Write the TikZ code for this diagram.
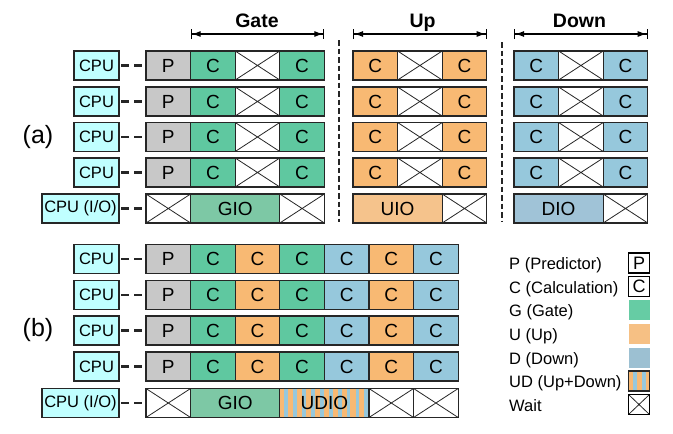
\documentclass[tikz,border=0pt]{standalone}
\usepackage{fontspec}
\setmainfont{Liberation Sans}
\usetikzlibrary{positioning,arrows.meta}

\definecolor{cpuc}{RGB}{192,255,255}
\definecolor{predc}{RGB}{200,200,200}
\definecolor{gatec}{RGB}{95,200,160}
\definecolor{upc}{RGB}{248,185,115}
\definecolor{downc}{RGB}{150,200,220}
\definecolor{gioc}{RGB}{125,200,165}
\definecolor{uioc}{RGB}{245,195,140}
\definecolor{dioc}{RGB}{160,195,215}
\definecolor{legg}{RGB}{102,204,164}
\definecolor{legu}{RGB}{246,192,132}
\definecolor{legd}{RGB}{156,192,210}

\tikzset{
  cell/.style={draw=black!85, line width=1.3pt, minimum width=44.6pt, minimum height=29pt,
    inner sep=0pt, outer sep=0pt, font=\fontsize{19}{19}\selectfont},
  wide/.style={minimum width=89.2pt},
  cross/.style={path picture={\draw[line width=0.8pt, black!85]
    (path picture bounding box.north west) -- (path picture bounding box.south east)
    (path picture bounding box.north east) -- (path picture bounding box.south west);}},
  waitbox/.style={cell, fill=white, cross},
  stripes/.style={fill=upc, path picture={\foreach \k in {0,...,10}
    \fill[downc] ([xshift=\k*8.9pt+4.5pt]path picture bounding box.south west) rectangle ++(3.8pt,40pt);}},
  cpu/.style={draw=black!85, fill=cpuc, line width=1.2pt, minimum width=45pt, minimum height=29pt,
    inner sep=1pt, outer sep=0pt, font=\fontsize{16.5}{16.5}\selectfont},
  link/.style={line width=2.5pt, black!85, dash pattern=on 7.5pt off 5.5pt,
    shorten <=2pt, shorten >=4pt},
  sep/.style={line width=1.4pt, black!85, dash pattern=on 5.5pt off 3pt},
  span/.style={line width=1.1pt, {Bar[width=10pt]Latex[length=9pt,width=6pt]}-{Latex[length=9pt,width=6pt]Bar[width=10pt]}},
  title/.style={font=\bfseries\fontsize{19.5}{19.5}\selectfont, anchor=base, inner sep=0pt},
  part/.style={font=\fontsize{25}{25}\selectfont, inner sep=0pt},
  legtext/.style={font=\fontsize{16.5}{16.5}\selectfont, anchor=base west, inner sep=0pt},
  legbox/.style={minimum width=21pt, minimum height=20pt, inner sep=0pt, outer sep=0pt,
    font=\fontsize{18}{18}\selectfont}
}

\begin{document}
\begin{tikzpicture}[x=1pt,y=-1pt]
\useasboundingbox (0,0) rectangle (673,434);

% (a) separate Gate / Up / Down phases
\foreach \i/\y in {1/65.5,2/101.5,3/137,4/172.5} {
  \node[cell, fill=predc] (a\i-p) at (168.3,\y) {P};
  \node[cell, fill=gatec, right=0pt of a\i-p] (a\i-g1) {C};
  \node[waitbox, right=0pt of a\i-g1] (a\i-gw) {};
  \node[cell, fill=gatec, right=0pt of a\i-gw] (a\i-g2) {C};
  \node[cell, fill=upc] (a\i-u1) at (375.3,\y) {C};
  \node[waitbox, right=0pt of a\i-u1] (a\i-uw) {};
  \node[cell, fill=upc, right=0pt of a\i-uw] (a\i-u2) {C};
  \node[cell, fill=downc] (a\i-d1) at (536.3,\y) {C};
  \node[waitbox, right=0pt of a\i-d1] (a\i-dw) {};
  \node[cell, fill=downc, right=0pt of a\i-dw] (a\i-d2) {C};
  \node[cpu, left=27pt of a\i-p] (a\i-cpu) {CPU};
  \draw[link] (a\i-cpu) -- (a\i-p);
}
\node[waitbox] (a5-w1) at (168.3,208.5) {};
\node[cell, wide, fill=gioc, right=0pt of a5-w1] (a5-gio) {GIO};
\node[waitbox, right=0pt of a5-gio] (a5-w2) {};
\node[cell, wide, fill=uioc] (a5-uio) at (397.6,208.5) {UIO};
\node[waitbox, right=0pt of a5-uio] (a5-w3) {};
\node[cell, wide, fill=dioc] (a5-dio) at (558.6,208.5) {DIO};
\node[waitbox, right=0pt of a5-dio] (a5-w4) {};
\node[cpu, minimum width=77pt, left=27pt of a5-w1] (a5-cpu) {CPU (I/O)};
\draw[link] (a5-cpu) -- (a5-w1);

\node[part] (lab-a) at (38,137) {(a)};

% phase spans
\coordinate (gate-l) at (a1-g1.north west |- 0,34);
\coordinate (gate-r) at (a1-g2.north east |- 0,34);
\coordinate (up-l) at (a1-u1.north west |- 0,34);
\coordinate (up-r) at (a1-u2.north east |- 0,34);
\coordinate (down-l) at (a1-d1.north west |- 0,34);
\coordinate (down-r) at (a1-d2.north east |- 0,34);
\draw[span] (gate-l) -- (gate-r);
\draw[span] (up-l) -- (up-r);
\draw[span] (down-l) -- (down-r);
\node[title] (gate-t) at (257,27) {Gate};
\node[title] (up-t) at (422.5,27) {Up};
\node[title] (down-t) at (579.5,27) {Down};

% separators
\coordinate (sep1-t) at (339,40);
\coordinate (sep1-b) at (339,222);
\coordinate (sep2-t) at (502,42);
\coordinate (sep2-b) at (502,222);
\draw[sep] (sep1-t) -- (sep1-b);
\draw[sep] (sep2-t) -- (sep2-b);

% (b) merged pipeline
\foreach \i/\y in {1/259,2/295,3/330.5,4/366.5} {
  \node[cell, fill=predc] (b\i-p) at (168.3,\y) {P};
  \node[cell, fill=gatec, right=0pt of b\i-p] (b\i-c1) {C};
  \node[cell, fill=upc, right=0pt of b\i-c1] (b\i-c2) {C};
  \node[cell, fill=gatec, right=0pt of b\i-c2] (b\i-c3) {C};
  \node[cell, fill=downc, right=0pt of b\i-c3] (b\i-c4) {C};
  \node[cell, fill=upc, right=0pt of b\i-c4] (b\i-c5) {C};
  \node[cell, fill=downc, right=0pt of b\i-c5] (b\i-c6) {C};
  \node[cpu, left=27pt of b\i-p] (b\i-cpu) {CPU};
  \draw[link] (b\i-cpu) -- (b\i-p);
}
\node[waitbox] (b5-w1) at (168.3,403) {};
\node[cell, wide, fill=gioc, right=0pt of b5-w1] (b5-gio) {GIO};
\node[cell, wide, stripes, right=0pt of b5-gio] (b5-udio) {UDIO};
\node[waitbox, right=0pt of b5-udio] (b5-w2) {};
\node[waitbox, right=0pt of b5-w2] (b5-w3) {};
\node[cpu, minimum width=77pt, left=27pt of b5-w1] (b5-cpu) {CPU (I/O)};
\draw[link] (b5-cpu) -- (b5-w1);

\node[part] (lab-b) at (38,330) {(b)};

% legend
\node[legbox, draw=black, line width=1.2pt] (leg-p) at (639,263) {P};
\node[legbox, draw=black, line width=1.2pt] (leg-c) at (639,286.5) {C};
\node[legbox, fill=legg] (leg-g) at (639,310) {};
\node[legbox, fill=legu] (leg-u) at (639,334) {};
\node[legbox, fill=legd] (leg-d) at (639,357.5) {};
\node[legbox, draw=black!85, line width=1.2pt, stripes] (leg-ud) at (639,381) {};
\node[legbox, draw=black, line width=1.2pt, fill=white, cross] (leg-w) at (639,404.5) {};
\node[legtext] (leg-pt) at (509,269.5) {P (Predictor)};
\node[legtext] (leg-ct) at (509,293) {C (Calculation)};
\node[legtext] (leg-gt) at (509,316.5) {G (Gate)};
\node[legtext] (leg-ut) at (509,340.5) {U (Up)};
\node[legtext] (leg-dt) at (509,364) {D (Down)};
\node[legtext] (leg-udt) at (509,387.5) {UD (Up+Down)};
\node[legtext] (leg-wt) at (509,411) {Wait};
\end{tikzpicture}
\end{document}
